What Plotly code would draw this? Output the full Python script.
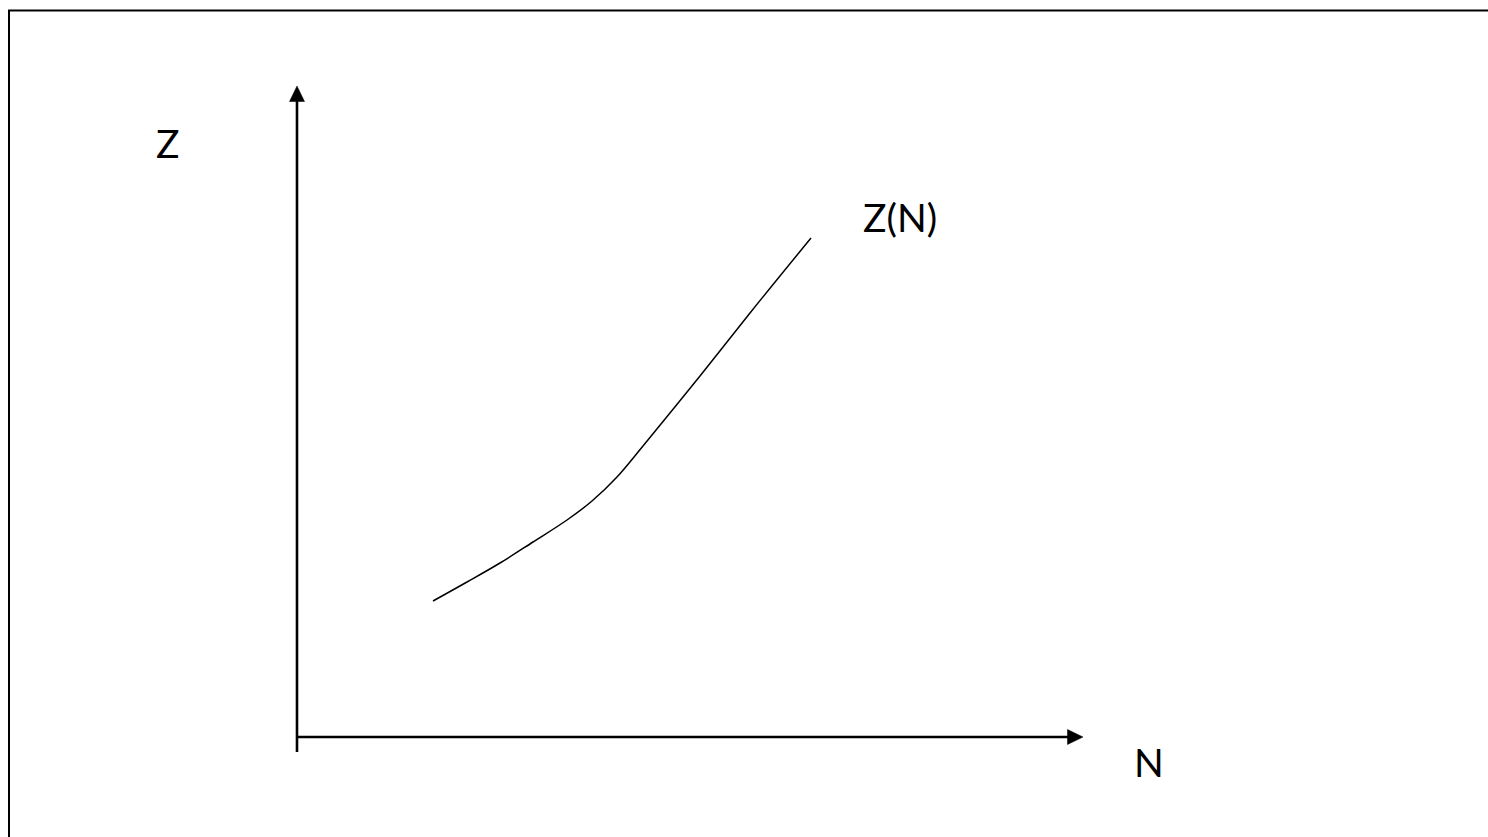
import plotly.graph_objects as go

# Curve Z(N) (schematic units; origin at axes intersection)
N_vals = [1.36, 1.70, 2.03, 2.36, 2.70, 2.95, 3.20, 3.46, 4.03, 4.53, 5.14]
Z_vals = [1.36, 1.55, 1.74, 1.95, 2.17, 2.36, 2.60, 2.91, 3.61, 4.24, 4.99]

curve_label = "Z(N)"
x_label = "N"
y_label = "Z"

W, H = 1488, 837
X0, Y0 = 297, 737  # pixel position of the origin
S = 100.0          # pixels per unit

xr = [-X0 / S, (W - X0) / S]
yr = [-(H - Y0) / S, Y0 / S]

def px(x):
    return (x - X0) / S

def py(y):
    return (Y0 - y) / S

fig = go.Figure()
fig.add_trace(go.Scatter(
    x=N_vals, y=Z_vals, mode="lines",
    line=dict(color="black", width=1.5, shape="spline", smoothing=1.0),
    hoverinfo="skip", showlegend=False,
))

shapes = []
# vertical axis
shapes.append(dict(type="line", x0=0, y0=py(752), x1=0, y1=py(100),
                   line=dict(color="black", width=2.6)))
shapes.append(dict(type="path",
                   path=f"M {px(297)} {py(86)} L {px(289.5)} {py(101.5)} L {px(304.5)} {py(101.5)} Z",
                   fillcolor="black", line=dict(color="black", width=0.5)))
# horizontal axis
shapes.append(dict(type="line", x0=0, y0=0, x1=px(1068), y1=0,
                   line=dict(color="black", width=2.6)))
shapes.append(dict(type="path",
                   path=f"M {px(1083)} {py(737)} L {px(1067.5)} {py(729.5)} L {px(1067.5)} {py(744.5)} Z",
                   fillcolor="black", line=dict(color="black", width=0.5)))
# frame
shapes.append(dict(type="rect", xref="paper", yref="paper",
                   x0=9 / W, y0=-0.02, x1=1.02, y1=1 - 10.5 / H,
                   line=dict(color="black", width=2)))

font = dict(family="Lato, Open Sans, sans-serif", size=39, color="black")
annotations = [
    dict(x=px(167), y=py(143), text=y_label, showarrow=False, font=font,
         xanchor="center", yanchor="middle"),
    dict(x=px(900), y=py(217), text=curve_label, showarrow=False, font=font,
         xanchor="center", yanchor="middle"),
    dict(x=px(1149), y=py(762), text=x_label, showarrow=False, font=font,
         xanchor="center", yanchor="middle"),
]

fig.update_layout(
    width=W, height=H,
    margin=dict(l=0, r=0, t=0, b=0),
    paper_bgcolor="white", plot_bgcolor="white",
    xaxis=dict(range=xr, visible=False, fixedrange=True),
    yaxis=dict(range=yr, visible=False, fixedrange=True),
    shapes=shapes, annotations=annotations,
    showlegend=False,
)

fig.write_html(
    "out.html",
    config={"displayModeBar": False},
    post_script="document.body.style.margin='0';document.body.style.overflow='hidden';",
)
